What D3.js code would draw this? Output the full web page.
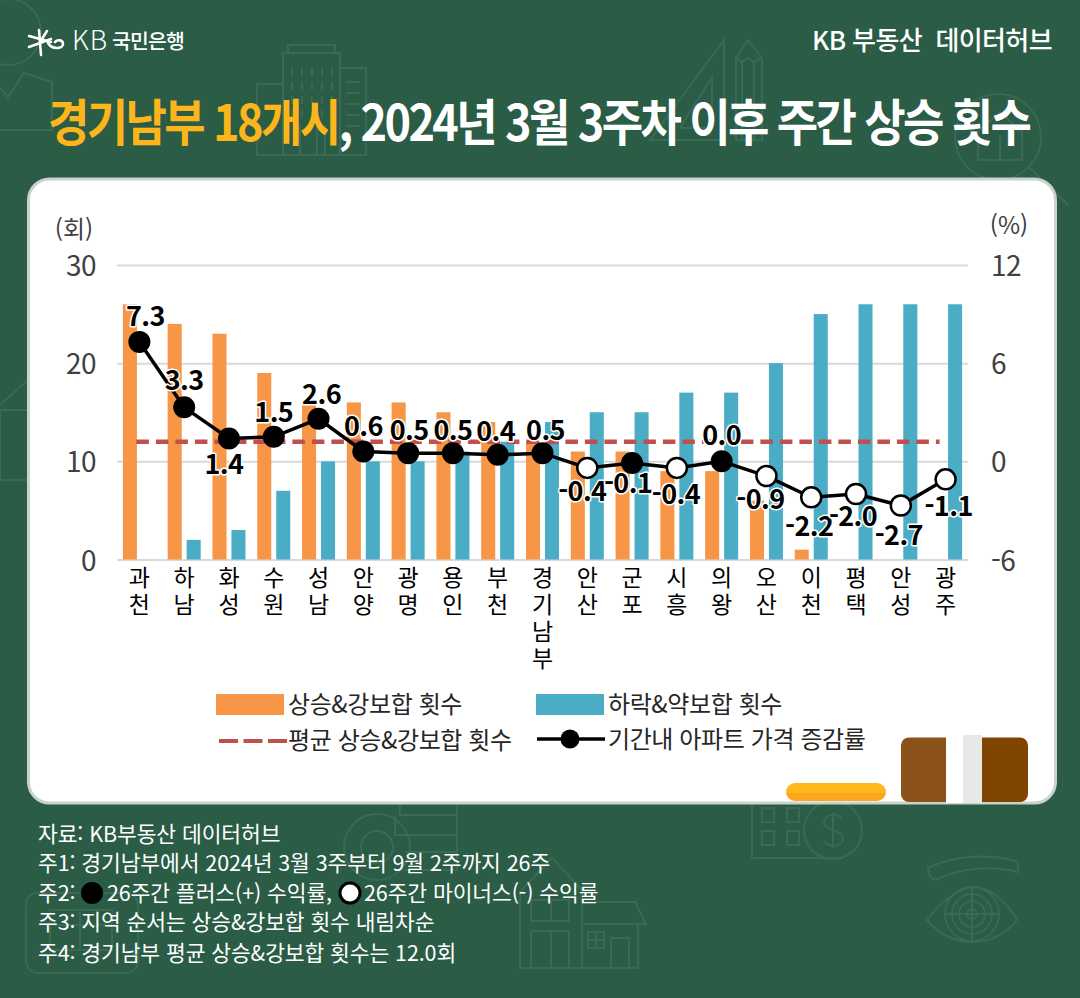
<!DOCTYPE html>
<html lang="ko">
<head>
<meta charset="utf-8">
<title>경기남부 18개시 주간 상승 횟수</title>
<script src="https://cdn.jsdelivr.net/npm/d3@7/dist/d3.min.js"></script>
<style>
  html, body { margin: 0; padding: 0; background: #2a5c46; }
  svg { display: block; }
  text { font-family: "Noto Sans CJK KR", "Noto Sans", sans-serif; }
</style>
</head>
<body>
<script>
// values
const regions = ["과천","하남","화성","수원","성남","안양","광명","용인","부천","경기남부","안산","군포","시흥","의왕","오산","이천","평택","안성","광주"];
const upCounts = [26,24,23,19,16,16,16,15,14,12,11,11,9,9,6,1,0,0,0];
const downCounts = [0,2,3,7,10,10,10,11,12,14,15,15,17,17,20,25,26,26,26];
const priceChange = [7.3,3.3,1.4,1.5,2.6,0.6,0.5,0.5,0.4,0.5,-0.4,-0.1,-0.4,0.0,-0.9,-2.2,-2.0,-2.7,-1.1];
const plusReturn = [1,1,1,1,1,1,1,1,1,1,0,1,0,1,0,0,0,0,0];
const avgUp = 12;
const leftTicks = [0,10,20,30];
const rightTicks = [-6,0,6,12];
const notes = [
  "자료: KB부동산 데이터허브",
  "주1: 경기남부에서 2024년 3월 3주부터 9월 2주까지 26주",
  null,
  "주3: 지역 순서는 상승&강보합 횟수 내림차순",
  "주4: 경기남부 평균 상승&강보합 횟수는 12.0회"
];

// label nudges from the point, in px
const labelDx = [6,0,-5,0,3,0,1,0,-2,3,-5,-4,-1,0,-6,-2,-3,-2,3];
const labelDy = [-26,-27,26,-25,-25,-25,-23,-23,-24,-23,23,20,26,-26,23,29,22,30,27];

const ORANGE = "#f79646", BLUE = "#4bacc6", RED = "#c0504d", GREEN = "#2a5c46";
const ICON = "#3a6a55", AXIS = "#404040";

const svg = d3.select("body").append("svg").attr("width", 1080).attr("height", 998);
svg.append("rect").attr("width", 1080).attr("height", 998).attr("fill", GREEN);

// faint icons behind everything
const bg = svg.append("g").attr("fill", "none").attr("stroke", ICON).attr("stroke-width", 2);
function box(x, y, w, h, r) { bg.append("rect").attr("x", x).attr("y", y).attr("width", w).attr("height", h).attr("rx", r || 0); }
function ring(x, y, r) { bg.append("circle").attr("cx", x).attr("cy", y).attr("r", r); }
function path(d) { bg.append("path").attr("d", d); }

ring(8, 32, 33);
path("M0,88 L8,97 L24,73 L52,82 L52,130 L0,130");
box(283, 53, 57, 102); box(288, 45, 47, 8); box(340, 68, 26, 87); box(257, 84, 26, 71);
for (let col = 0; col < 5; col++) path(`M${292 + col * 10},68V76M${292 + col * 10},82V90M${292 + col * 10},96V104M${292 + col * 10},110V118`);
for (let row = 0; row < 5; row++) path(`M346,${82 + row * 11}H360`);
path("M300,155V125M317,155V125M325,155V125");
path("M724,40 L724,140 L650,140 Z M712,77 L712,128 L680,128 Z");
path("M736,140 V58 L748,40 L762,58 V140 Z M736,58 L742,62 L748,58 L754,62 L762,58 M742,62 V140 M754,62 V140");
ring(998, 137, 43);
path("M1030,168 L1068,205 M978,160 V132 L1000,112 L1022,132 V160 Z M1000,160 V135");
ring(377, 847, 33); ring(377, 847, 16);
path("M400,800 V815 H457 V800 M395,815 V835 H457 V815 M400,835 H457 V852 H405 M405,852 H457 V870 H395");
box(26, 893, 112, 80, 12); box(50, 910, 62, 40); path("M50,925 H112 M80,910 V950 M26,410 H0 M28,380 L0,405");
box(0, 410, 28, 70);
path("M520,968 V892 L552,858 L582,890 V968 Z M520,968 H638 V924 M582,924 H646 L635,902 H582 M531,900 H569 V921 H531 Z M531,931 H569 V968 M531,931 V968 M551,931 V968 M551,900 V921 M588,932 H604 V948 H588 Z M596,932 V948 M588,940 H604 M611,938 H629 V968 M611,938 V968");
path("M752,800 V858 H840 M762,808 h12 v14 h-12 Z M787,808 h12 v14 h-12 Z M762,831 h12 v14 h-12 Z M787,831 h12 v14 h-12 Z");
ring(833, 830, 29);
path("M842,819 C838,812 824,814 824,822 C824,832 843,828 843,839 C843,847 828,848 824,841 M833,812 V848");
path("M928,868 C955,855 990,853 1018,862 L1018,872 C990,865 960,868 935,880 Q928,878 928,868 Z");
path("M927,920 C945,895 965,888 972,887 C990,887 1005,900 1017,920 C1005,935 990,942 972,942 C955,942 940,935 927,920 Z M945,914 H999 M972,887 V942");
ring(972, 914, 27); ring(972, 914, 20); ring(972, 914, 13); ring(972, 914, 5);

// header
const logo = svg.append("g").attr("stroke", "#fff").attr("stroke-width", 2.6).attr("stroke-linecap", "round").attr("fill", "none");
logo.append("path").attr("d", "M29,36 L51,42 M29,47 L51,39 M39,30 L41,55 M47,31 L40,42");
logo.append("path").attr("d", "M48,43 C52,50 63,49 63,44 C63,40 58,39 55,42");
svg.append("text").attr("x", 72).attr("y", 50).attr("fill", "#fff").attr("font-size", 27).attr("font-weight", 300).attr("letter-spacing", 1).text("KB");
svg.append("text").attr("x", 112).attr("y", 49).attr("fill", "#fff").attr("font-size", 20.5).attr("font-weight", 500).attr("letter-spacing", -0.9).text("국민은행");
svg.append("text").attr("x", 1052).attr("y", 50).attr("text-anchor", "end").attr("fill", "#fff")
  .attr("font-size", 26).attr("font-weight", 500).attr("letter-spacing", -0.6).attr("xml:space", "preserve").text("KB 부동산  데이터허브");

const title = svg.append("text").attr("transform", "translate(48,141) scale(0.9,1)").attr("font-size", 50).attr("font-weight", 700).attr("letter-spacing", -2.9);
title.append("tspan").attr("fill", "#fdb51c").text("경기남부 18개시");
title.append("tspan").attr("fill", "#fff").text(", 2024년 3월 3주차 이후 주간 상승 횟수");

// card
svg.append("rect").attr("x", 28.5).attr("y", 179).attr("width", 1027).attr("height", 624).attr("rx", 21)
  .attr("fill", "#fff").attr("stroke", "#c9d3ce").attr("stroke-width", 3);

// scales
const margin = { left: 117, right: 968, top: 265, bottom: 559.5 };
const x = d3.scaleBand().domain(regions).range([margin.left, margin.right]);
const xSeries = d3.scaleBand().domain(["up", "down"]).range([0, x.bandwidth()]).paddingInner(0.26).paddingOuter(0.31);
const yCount = d3.scaleLinear().domain([0, 30]).range([margin.bottom, margin.top]);
const yPct = d3.scaleLinear().domain([-6, 12]).range([margin.bottom, margin.top]);
const cx = d => x(d) + x.bandwidth() / 2;

// axes
const axisL = svg.append("g").attr("transform", `translate(${margin.left},0)`)
  .call(d3.axisLeft(yCount).tickValues(leftTicks).tickSizeInner(-(margin.right - margin.left)).tickSizeOuter(0).tickPadding(21));
const axisR = svg.append("g").attr("transform", `translate(${margin.right},0)`)
  .call(d3.axisRight(yPct).tickValues(rightTicks).tickFormat(d => String(d)).tickSize(0).tickPadding(23));
axisL.select(".domain").remove();
axisR.select(".domain").remove();
axisL.selectAll(".tick line").attr("stroke", "#d9d9d9").attr("stroke-width", 2);
[axisL, axisR].forEach(a => a.selectAll(".tick text").attr("font-family", '"Noto Sans CJK KR"').attr("font-size", 28).attr("letter-spacing", -0.5).attr("fill", AXIS).attr("dy", "0.38em"));

svg.append("text").attr("x", 74).attr("y", 238).attr("text-anchor", "middle").attr("font-size", 24).attr("fill", AXIS).text("(회)");
svg.append("text").attr("x", 1009).attr("y", 234).attr("text-anchor", "middle").attr("font-size", 24).attr("fill", AXIS).text("(%)");

// bars
svg.append("g").selectAll("rect").data(regions).join("rect")
  .attr("x", d => x(d) + xSeries("up")).attr("width", xSeries.bandwidth())
  .attr("y", (d, i) => yCount(upCounts[i])).attr("height", (d, i) => yCount(0) - yCount(upCounts[i]))
  .attr("fill", ORANGE);
svg.append("g").selectAll("rect").data(regions).join("rect")
  .attr("x", d => x(d) + xSeries("down")).attr("width", xSeries.bandwidth())
  .attr("y", (d, i) => yCount(downCounts[i])).attr("height", (d, i) => yCount(0) - yCount(downCounts[i]))
  .attr("fill", BLUE);

// average line
svg.append("line").attr("x1", cx(regions[0]) - 3).attr("x2", cx(regions[regions.length - 1]) - 6)
  .attr("y1", yCount(avgUp)).attr("y2", yCount(avgUp))
  .attr("stroke", RED).attr("stroke-width", 4.5).attr("stroke-dasharray", "12.5 7");

// price change line
const line = d3.line().x((d, i) => cx(regions[i])).y(d => yPct(d));
svg.append("path").datum(priceChange).attr("d", line).attr("fill", "none").attr("stroke", "#000").attr("stroke-width", 3.5);
svg.append("g").selectAll("circle").data(priceChange).join("circle")
  .attr("cx", (d, i) => cx(regions[i])).attr("cy", d => yPct(d))
  .attr("r", (d, i) => plusReturn[i] ? 11 : 10)
  .attr("fill", (d, i) => plusReturn[i] ? "#000" : "#fff")
  .attr("stroke", "#000").attr("stroke-width", (d, i) => plusReturn[i] ? 0 : 2.5);

svg.append("g").selectAll("text").data(priceChange).join("text")
  .attr("x", (d, i) => cx(regions[i]) + labelDx[i]).attr("y", (d, i) => yPct(d) + labelDy[i])
  .attr("dy", "0.36em").attr("text-anchor", "middle")
  .attr("font-size", 27).attr("font-weight", 700).attr("letter-spacing", -0.6).attr("fill", "#000")
  .attr("stroke", "#fff").attr("stroke-width", 3).attr("paint-order", "stroke").attr("stroke-linejoin", "round")
  .text(d => d.toFixed(1));

// vertical category labels
svg.append("g").selectAll("text").data(regions).join("text")
  .attr("y", 578).attr("text-anchor", "middle").attr("font-size", 23).attr("fill", "#000")
  .each(function (r) {
    d3.select(this).selectAll("tspan").data(Array.from(r)).join("tspan")
      .attr("x", cx(r))
      .attr("y", (ch, i) => 578 + i * 27)
      .attr("dy", "0.36em")
      .text(ch => ch);
  });

// legend
const legend = svg.append("g").attr("font-size", 24).attr("fill", "#262626");
legend.append("rect").attr("x", 216).attr("y", 694).attr("width", 68).attr("height", 21).attr("fill", ORANGE);
legend.append("rect").attr("x", 536).attr("y", 694).attr("width", 68).attr("height", 21).attr("fill", BLUE);
legend.append("line").attr("x1", 219).attr("x2", 288).attr("y1", 741).attr("y2", 741)
  .attr("stroke", RED).attr("stroke-width", 4).attr("stroke-dasharray", "19 5.5");
legend.append("line").attr("x1", 537).attr("x2", 605).attr("y1", 739).attr("y2", 739).attr("stroke", "#000").attr("stroke-width", 3.5);
legend.append("circle").attr("cx", 570).attr("cy", 739).attr("r", 9.5).attr("fill", "#000");
[["상승&강보합 횟수", 288, 704], ["하락&약보합 횟수", 608, 704], ["평균 상승&강보합 횟수", 288, 740], ["기간내 아파트 가격 증감률", 608, 739]].forEach(t => {
  legend.append("text").attr("x", t[1]).attr("y", t[2]).attr("dy", "0.36em").attr("letter-spacing", -0.4).text(t[0]);
});

// bottom right decoration
const pillFill = svg.append("defs").append("linearGradient").attr("id", "pill").attr("x2", 0).attr("y2", 1);
pillFill.append("stop").attr("offset", "55%").attr("stop-color", "#ffb81c");
pillFill.append("stop").attr("offset", "55%").attr("stop-color", "#fca61f");
svg.append("rect").attr("x", 786).attr("y", 783).attr("width", 100).attr("height", 18).attr("rx", 9).attr("fill", "url(#pill)");
svg.append("rect").attr("x", 901).attr("y", 737.5).attr("width", 62).attr("height", 64.5).attr("rx", 8).attr("fill", "#8b5219");
svg.append("rect").attr("x", 946).attr("y", 735).attr("width", 17).attr("height", 68).attr("fill", "#fff");
svg.append("rect").attr("x", 970).attr("y", 737.5).attr("width", 58).attr("height", 64.5).attr("rx", 8).attr("fill", "#7f4500");
svg.append("rect").attr("x", 963).attr("y", 735).attr("width", 19).attr("height", 68).attr("fill", "#e8e8e8");

// notes
const noteY = [834, 863, 893, 922, 953];
const noteG = svg.append("g").attr("font-size", 21.5).attr("fill", "#fff").attr("letter-spacing", -0.1);
notes.forEach((n, i) => {
  if (n) noteG.append("text").attr("x", 38).attr("y", noteY[i]).attr("dy", "0.36em").text(n);
});
noteG.append("text").attr("x", 38).attr("y", noteY[2]).attr("dy", "0.36em").text("주2:");
noteG.append("circle").attr("cx", 92).attr("cy", noteY[2]).attr("r", 11).attr("fill", "#000");
noteG.append("text").attr("x", 107).attr("y", noteY[2]).attr("dy", "0.36em").text("26주간 플러스(+) 수익률,");
noteG.append("circle").attr("cx", 350).attr("cy", noteY[2]).attr("r", 10).attr("fill", "#fff").attr("stroke", "#000").attr("stroke-width", 3);
noteG.append("text").attr("x", 364).attr("y", noteY[2]).attr("dy", "0.36em").text("26주간 마이너스(-) 수익률");
</script>
</body>
</html>
